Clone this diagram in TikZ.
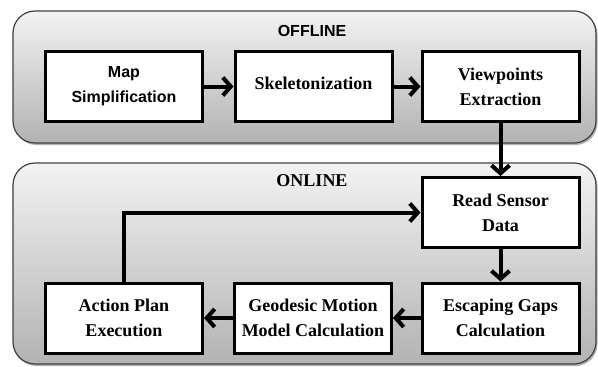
\documentclass[tikz,border=0pt]{standalone}
\usepackage{fontspec}
\newfontfamily\timesnr{Liberation Serif}
\newfontfamily\arialfam{Liberation Sans}
\usetikzlibrary{arrows.meta}
\begin{document}
\begin{tikzpicture}[x=1pt,y=-1pt,
  container/.style={draw=black!75,line width=1.2pt,rounded corners=22pt,top color=black!5,bottom color=black!30},
  shadowbox/.style={fill=black!30,rounded corners=22pt},
  stepbox/.style={draw=black,line width=3pt,fill=white,minimum width=157pt,minimum height=70pt,inner sep=0pt,align=center,font=\timesnr\fontsize{18}{25}\selectfont\bfseries},
  sansbox/.style={stepbox,font=\arialfam\fontsize{16}{25}\selectfont\bfseries},
  flow/.style={line width=4pt,-{Straight Barb[length=8pt,width=18pt]}}]
\useasboundingbox (0,0) rectangle (598,367);
% containers
\fill[shadowbox] (14.5,12.5) rectangle (597.5,145);
\path[container] (13,11) rectangle (596,143);
\fill[shadowbox] (14.5,164.5) rectangle (597.5,366);
\path[container] (13,163) rectangle (596,364);
\node[font=\arialfam\fontsize{16}{22}\selectfont\bfseries] (off) at (312,31) {OFFLINE};
\node[font=\timesnr\fontsize{18}{22}\selectfont\bfseries] (on) at (312,181) {ONLINE};
% boxes
\node[sansbox] (map) at (124,86.5) {Map\\Simplification};
\node[stepbox] (skel) at (313.5,86.5) {\raisebox{7pt}{Skeletonization}};
\node[stepbox] (vp) at (500.5,86.5) {Viewpoints\\Extraction};
\node[stepbox] (read) at (500.5,212.5) {Read Sensor\\Data};
\node[stepbox] (esc) at (500.5,318) {Escaping Gaps\\Calculation};
\node[stepbox] (geo) at (313,318) {Geodesic Motion\\Model Calculation};
\node[stepbox] (act) at (124,318) {Action Plan\\Execution};
% connectors
\draw[flow] (map) -- (skel);
\draw[flow] (skel) -- (vp);
\draw[flow] (vp) -- (read);
\draw[flow] (read) -- (esc);
\draw[flow] (esc) -- (geo);
\draw[flow] (geo) -- (act);
\draw[flow] (act.north) |- (read.west);
\end{tikzpicture}
\end{document}
